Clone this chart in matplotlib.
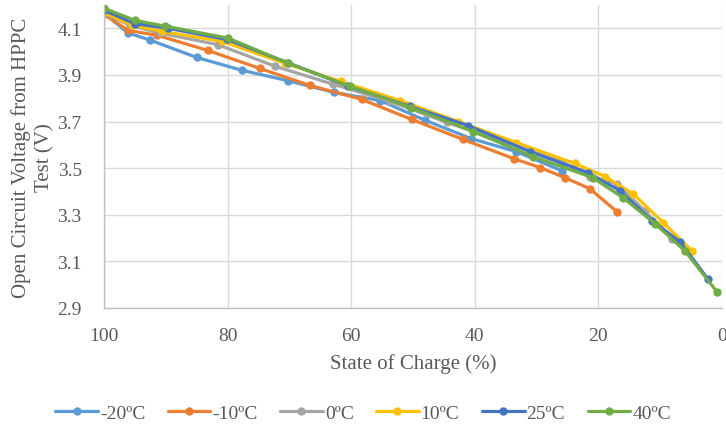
import matplotlib
matplotlib.use("Agg")
import matplotlib.pyplot as plt

labels = ["-20ºC", "-10ºC", "0ºC", "10ºC", "25ºC", "40ºC"]
colors = ["#5B9BD5", "#ED7D31", "#A5A5A5", "#FFC000", "#4472C4", "#70AD47"]

soc_m20 = [100, 96.1, 92.6, 85.0, 77.7, 70.2, 62.8, 55.3, 48.0, 40.6, 33.3, 25.9]
ocv_m20 = [4.165, 4.080, 4.050, 3.975, 3.920, 3.875, 3.825, 3.790, 3.705, 3.627, 3.571, 3.489]

soc_m10 = [100, 96.1, 91.4, 83.2, 74.8, 66.7, 58.3, 50.2, 41.9, 33.7, 29.4, 25.4, 21.4, 17.0]
ocv_m10 = [4.160, 4.091, 4.070, 4.005, 3.928, 3.855, 3.795, 3.709, 3.623, 3.541, 3.502, 3.459, 3.412, 3.313]

soc_0 = [100, 95.8, 91.0, 81.6, 72.3, 62.9, 53.7, 44.5, 35.1, 25.9, 21.4, 17.0, 12.5, 8.1]
ocv_0 = [4.165, 4.113, 4.080, 4.030, 3.937, 3.860, 3.786, 3.696, 3.614, 3.528, 3.464, 3.433, 3.317, 3.197]

soc_10 = [100, 95.5, 90.6, 80.9, 70.7, 61.7, 52.1, 42.7, 33.3, 23.8, 18.9, 14.4, 9.5, 4.9]
ocv_10 = [4.169, 4.113, 4.087, 4.044, 3.950, 3.872, 3.790, 3.700, 3.610, 3.520, 3.464, 3.390, 3.266, 3.146]

soc_25 = [100, 95.0, 89.6, 80.1, 70.2, 60.5, 50.5, 41.1, 31.1, 21.7, 16.5, 11.3, 6.8, 2.3]
ocv_25 = [4.177, 4.120, 4.100, 4.052, 3.952, 3.852, 3.765, 3.683, 3.571, 3.481, 3.403, 3.274, 3.184, 3.025]

soc_40 = [100, 95.0, 90.1, 79.9, 70.2, 60.2, 50.3, 40.3, 30.6, 20.9, 16.0, 10.8, 6.0, 0.8]
ocv_40 = [4.186, 4.134, 4.109, 4.058, 3.950, 3.851, 3.760, 3.657, 3.550, 3.459, 3.373, 3.261, 3.145, 2.969]

series = [(soc_m20, ocv_m20), (soc_m10, ocv_m10), (soc_0, ocv_0),
          (soc_10, ocv_10), (soc_25, ocv_25), (soc_40, ocv_40)]

xticks = [100, 80, 60, 40, 20, 0]
yticks = [2.9, 3.1, 3.3, 3.5, 3.7, 3.9, 4.1]

plt.rcParams['font.family'] = ['Liberation Serif', 'DejaVu Serif']

fig = plt.figure(figsize=(7.26, 4.31), dpi=100)
ax = fig.add_axes([104/726, 1 - 309/431, (722 - 104)/726, (309 - 6)/431])

for (x, y), lab, c in zip(series, labels, colors):
    ax.plot(x, y, color=c, lw=2.3, marker='o', ms=5, label=lab,
            solid_capstyle='round', solid_joinstyle='round')

ax.set_xlim(100, 0)
ax.set_ylim(2.9, 4.2)
ax.set_xticks(xticks)
ax.set_yticks(yticks)
ax.set_yticklabels([f"{v:.1f}" for v in yticks])
ax.grid(True, color="#D9D9D9", lw=1)
ax.set_axisbelow(True)
for s in ['top', 'right']:
    ax.spines[s].set_visible(False)
for s in ['left', 'bottom']:
    ax.spines[s].set_color('#BFBFBF')
    ax.spines[s].set_linewidth(1)
ax.tick_params(length=0, labelsize=14, labelcolor='#595959')
ax.tick_params(axis='y', pad=16)
ax.tick_params(axis='x', pad=14)

ax.set_xlabel("State of Charge (%)", fontsize=15, color='#595959', labelpad=6)
ax.set_ylabel("Open Circuit Voltage from HPPC\nTest (V)", fontsize=15,
              color='#595959', linespacing=1.25)
ax.yaxis.set_label_coords(-50/618, 0.5)

fig.legend(loc='center', bbox_to_anchor=(0.5, 1 - 414/431), ncol=6,
           frameon=False, fontsize=14, handlelength=2.2, columnspacing=1.15,
           handletextpad=0.1, labelcolor='#595959', markerscale=1.0)

fig.savefig("out.png", dpi=100)
